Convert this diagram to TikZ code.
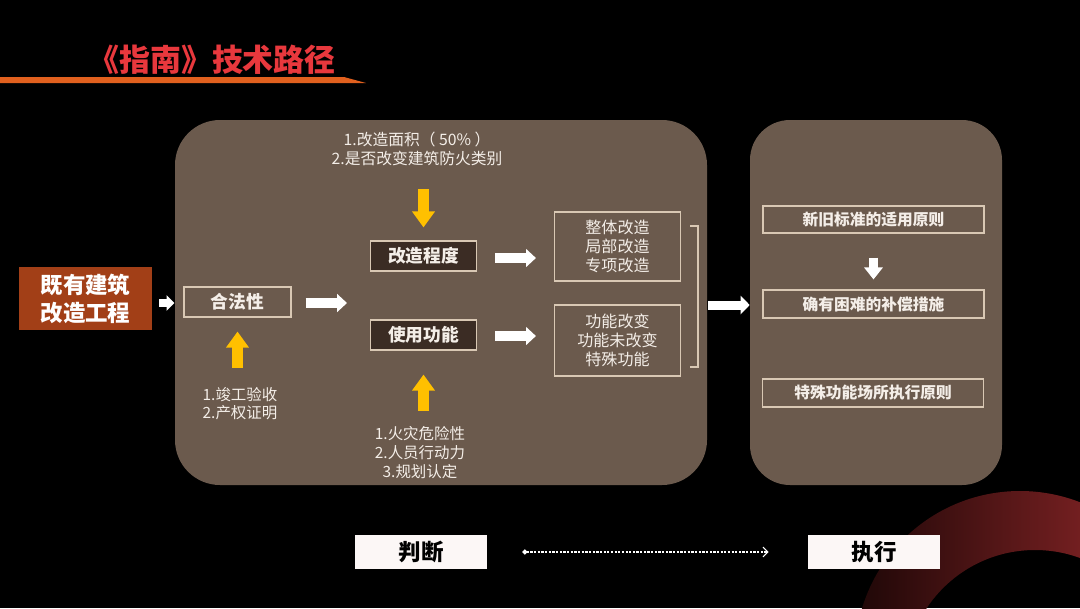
\documentclass[tikz,border=0pt]{standalone}
\usepackage{fontspec}
\setmainfont{Noto Sans CJK SC}
\usetikzlibrary{arrows.meta,calc}
\newlength{\pxu}\setlength{\pxu}{0.025cm}
\definecolor{panelbr}{HTML}{6B5A4D}
\definecolor{boxdark}{HTML}{3B2C24}
\definecolor{edgebeige}{HTML}{D9C8B4}
\definecolor{txtlight}{HTML}{F4EEE8}
\definecolor{arrowyel}{HTML}{FFC000}
\definecolor{titlered}{HTML}{E8383D}
\definecolor{lineorange}{HTML}{E1601E}
\definecolor{rustbox}{HTML}{A23F17}
\definecolor{arcdark}{HTML}{1E0707}
\definecolor{arcred}{HTML}{9A2A2C}
\definecolor{tagwhite}{HTML}{FCF7F6}

\begin{document}
\begin{tikzpicture}[x=0.025cm,y=-0.025cm,
  panel/.style={fill=panelbr,inner sep=0pt},
  framebox/.style={draw=edgebeige,line width=0.8pt,text=txtlight,inner sep=0pt,align=center},
  keybox/.style={framebox,fill=boxdark,minimum width=106\pxu,minimum height=30\pxu,font=\bfseries\fontsize{12.6}{15}\selectfont},
  rulebox/.style={framebox,minimum width=221\pxu,minimum height=27\pxu,font=\bfseries\fontsize{11.2}{13.5}\selectfont},
  listbox/.style={framebox,minimum width=126\pxu,font=\fontsize{11.4}{13.5}\selectfont},
  note/.style={text=txtlight,inner sep=0pt,font=\fontsize{11}{13.5}\selectfont},
  tagbox/.style={fill=tagwhite,text=black,inner sep=0pt,minimum width=132\pxu,minimum height=34\pxu,font=\bfseries\fontsize{16}{18}\selectfont},
  warrow/.style={draw=white,line width=7.8pt,-{Triangle[length=7pt,width=12.5pt]}},
  yarrow/.style={draw=arrowyel,line width=8.5pt,-{Triangle[length=11.4pt,width=15.6pt]}}]
\useasboundingbox (0,0) rectangle (1080,608);
\fill[black] (0,0) rectangle (1080,608);
\begin{scope}
\clip (0,0) rectangle (1080,608);
\shade[even odd rule,left color=arcdark,right color=arcred] (1020,656) circle (165) (1035,680) circle (130);
\end{scope}

\node[text=titlered,inner sep=0pt,font=\bfseries\fontsize{22}{25}\selectfont] (title) at (212,60) {《指南》技术路径};
\fill[lineorange] (0,77) -- (344,77) -- (366,83) -- (0,83) -- cycle;

\node[panel,minimum width=532\pxu,minimum height=365\pxu,rounded corners=45\pxu] (lp) at (441,302.5) {};
\node[panel,minimum width=252\pxu,minimum height=365\pxu,rounded corners=40\pxu] (rp) at (876,302.5) {};

\node[fill=rustbox,text=white,inner sep=0pt,minimum width=133\pxu,minimum height=63\pxu,align=center,font=\bfseries\fontsize{16}{20}\selectfont] (gc) at (85.5,298.5) {既有建筑\\改造工程};
\node[framebox,minimum width=107\pxu,minimum height=30\pxu,font=\bfseries\fontsize{12.6}{15}\selectfont] (hfx) at (237.5,302) {合法性};
\node[keybox] (gzcd) at (423.5,256) {改造程度};
\node[keybox] (sygn) at (423.5,335) {使用功能};
\node[listbox,minimum height=69\pxu] (lb1) at (617.5,246.5) {整体改造\\局部改造\\专项改造};
\node[listbox,minimum height=71\pxu] (lb2) at (617.5,340.5) {功能改变\\功能未改变\\特殊功能};

\node[note,align=center,font=\fontsize{11.2}{13.5}\selectfont] (gzcdnote) at (417,149) {1.改造面积（ 50\% ）\\2.是否改变建筑防火类别};
\node[note,align=left,font=\fontsize{11}{12.8}\selectfont] (hfxnote) at (240,404) {1.竣工验收\\2.产权证明};
\node[note,align=center] (sygnnote) at (420,453) {1.火灾危险性\\2.人员行动力\\3.规划认定};

\node[rulebox] (r1) at (873.5,219.5) {新旧标准的适用原则};
\node[rulebox,minimum height=28\pxu] (r2) at (873.5,304) {确有困难的补偿措施};
\node[rulebox,minimum height=28\pxu] (r3) at (873,393) {特殊功能场所执行原则};

\node[tagbox] (pd) at (421,552) {判断};
\node[tagbox] (zx) at (874,552) {执行};

\coordinate (fork) at (347,303);
\draw[warrow,line width=5.6pt,-{Triangle[length=5.6pt,width=10.7pt]}] ($(gc.east |- hfx.west)+(7,1)$) -- ($(hfx.west)+(-9,1)$);
\draw[warrow] ($(hfx.east)+(14,1)$) -- (fork);
\draw[warrow] ($(gzcd.east)+(18,2)$) -- ($(gzcd.east -| lb1.west)+(-18,2)$);
\draw[warrow] ($(sygn.east)+(18,1)$) -- ($(sygn.east -| lb2.west)+(-18,1)$);
\draw[yarrow] ($(gzcd.north)+(0,-51)$) -- ($(gzcd.north)+(0,-13)$);
\draw[yarrow] ($(hfx.south)+(0,50)$) -- ($(hfx.south)+(0,14)$);
\draw[yarrow] ($(sygn.south)+(0,60)$) -- ($(sygn.south)+(0,24)$);
\draw[edgebeige,line width=0.8pt] (690,226) -- (698,226) -- (698,367) -- (690,367);
\draw[warrow,line width=6.4pt,-{Triangle[length=6.4pt,width=12.8pt]}] ($(lp.east)+(1,2.5)$) -- ($(rp.west)+(0,2.5)$);
\draw[warrow,line width=6.4pt,-{Triangle[length=8.5pt,width=12.8pt]}] ($(r1.south)+(0,24)$) -- ($(r2.north)+(0,-10)$);
\draw[white,line width=0.8pt,dash pattern=on 1.6pt off 1pt,{Circle[length=3.6pt]}-{Straight Barb[length=3.5pt,width=7pt]}] ($(pd.east)+(35,0)$) -- ($(zx.west)+(-39,0)$);
\end{tikzpicture}
\end{document}
